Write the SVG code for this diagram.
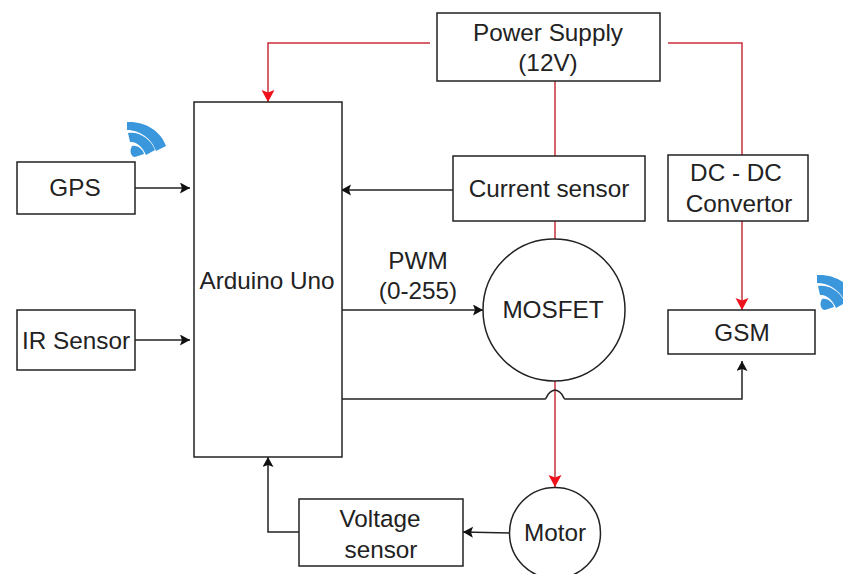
<svg xmlns="http://www.w3.org/2000/svg" width="843" height="574" viewBox="0 0 843 574">
<style>
.b{fill:#fff;stroke:#222;stroke-width:1.5}
.t{font-family:"Liberation Sans",Arial,sans-serif;font-size:24.300px;fill:#222;text-anchor:middle}
.k{fill:none;stroke:#222;stroke-width:1.5}
.r{fill:none;stroke:#c9303c;stroke-width:1.5}
.w{fill:#3a97dc}
</style>
<defs>
<marker id="ak" markerUnits="userSpaceOnUse" markerWidth="12" markerHeight="12" refX="10" refY="5.500" orient="auto"><path d="M0 0L10 5.500L0 11L2 5.500Z" fill="#111"/></marker>
<marker id="ar" markerUnits="userSpaceOnUse" markerWidth="14" markerHeight="14" refX="12" refY="6.500" orient="auto"><path d="M0 0L12 6.500L0 13L2.500 6.500Z" fill="#f0101c"/></marker>
<g id="wifi">
<path class="w" d="M127 122C145 121 161 131 166 146L156 151C152 139 140 130 127 130Z"/>
<path class="w" d="M128 133C139 131 151 139 155 150L146 155C143 147 136 141 130 142Z"/>
<path class="w" d="M132 146C138 145 143 150 144 154L135 157C131 157 129 151 132 146Z"/>
</g>
</defs>
<rect width="843" height="574" fill="#fff"/>
<g id="connectors">
<path class="r" d="M430 43H268V102" marker-end="url(#ar)"/>
<path class="r" d="M668 43H742V155"/>
<path class="r" d="M555 81V156"/>
<path class="r" d="M555 221V239"/>
<path class="r" d="M742 221V310" marker-end="url(#ar)"/>
<path class="r" d="M555 381V487" marker-end="url(#ar)"/>
<path class="k" d="M135 188H190" marker-end="url(#ak)"/>
<path class="k" d="M135 340H190" marker-end="url(#ak)"/>
<path class="k" d="M453 190H341" marker-end="url(#ak)"/>
<path class="k" d="M342 310H483" marker-end="url(#ak)"/>
<path class="k" d="M342 399H545C547 399 547 391 555 390C563 391 563 399 565 399H742V361" marker-end="url(#ak)"/>
<path class="k" d="M510 533L463 532" marker-end="url(#ak)"/>
<path class="k" d="M299 532H268V457" marker-end="url(#ak)"/>
</g>
<g id="power-supply"><rect class="b" x="437" y="13" width="223" height="68"/><text class="t" x="548" y="41">Power Supply</text><text class="t" x="548" y="71">(12V)</text></g>
<g id="arduino"><rect class="b" x="194" y="102" width="148" height="355"/><text class="t" x="267" y="289">Arduino Uno</text></g>
<g id="gps"><rect class="b" x="17" y="162" width="118" height="52"/><text class="t" x="75" y="196">GPS</text></g>
<use href="#wifi"/>
<g id="ir-sensor"><rect class="b" x="17" y="310" width="118" height="60"/><text class="t" x="76" y="349">IR Sensor</text></g>
<g id="current-sensor"><rect class="b" x="453" y="156" width="192" height="65"/><text class="t" x="549" y="197">Current sensor</text></g>
<g id="dc-dc"><rect class="b" x="668" y="155" width="140" height="66"/><text class="t" x="736" y="181">DC - DC</text><text class="t" x="739" y="212">Convertor</text></g>
<g id="mosfet"><circle class="b" cx="554" cy="310" r="71"/><text class="t" x="553" y="318">MOSFET</text></g>
<g id="gsm"><rect class="b" x="668" y="310" width="147" height="44"/><text class="t" x="742" y="341">GSM</text></g>
<use href="#wifi" x="690" y="153"/>
<g id="voltage-sensor"><rect class="b" x="299" y="499" width="164" height="67"/><text class="t" x="380" y="527">Voltage</text><text class="t" x="381" y="558">sensor</text></g>
<g id="motor"><circle class="b" cx="555" cy="533" r="45.500"/><text class="t" x="555" y="541">Motor</text></g>
<g id="pwm"><text class="t" x="418" y="269">PWM</text><text class="t" x="418" y="299">(0-255)</text></g>
</svg>
